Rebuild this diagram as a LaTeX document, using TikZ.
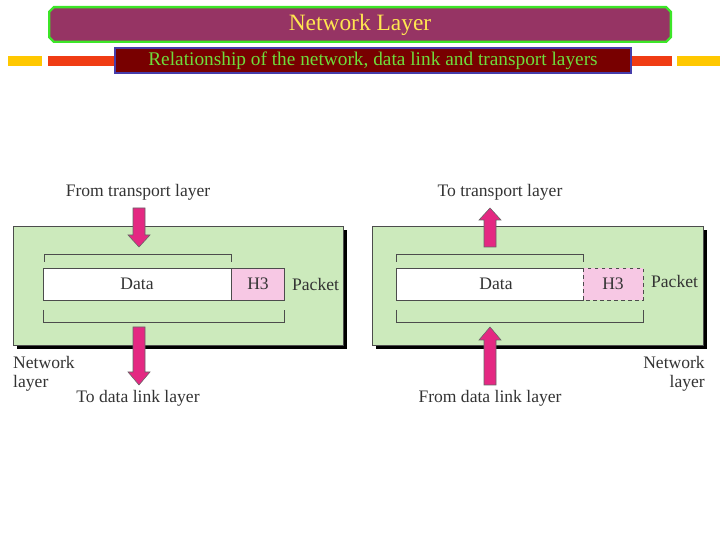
\documentclass[tikz,border=0pt]{standalone}
\usepackage{fontspec}
\setmainfont{Liberation Serif}
\usetikzlibrary{calc,shapes.misc}
\definecolor{banner}{RGB}{150,52,100}
\definecolor{bgreen}{RGB}{60,230,40}
\definecolor{subred}{RGB}{120,0,0}
\definecolor{subblue}{RGB}{70,60,170}
\definecolor{barred}{RGB}{240,60,20}
\definecolor{baryel}{RGB}{255,200,0}
\definecolor{panel}{RGB}{204,234,188}
\definecolor{hpink}{RGB}{247,200,228}
\definecolor{arrpink}{RGB}{228,40,130}
\definecolor{txtyel}{RGB}{255,230,80}
\definecolor{txtgrn}{RGB}{110,220,60}
\tikzset{
  panelbox/.style={draw=black!70, fill=panel},
  shadow/.style={fill=black},
  field/.style={draw=black!70, inner sep=0pt},
  lbl/.style={font=\fontsize{15}{16}\selectfont, text=black!80},
  brk/.style={draw=black!70, line width=0.6pt},
  blk/.style={draw=black!60, fill=arrpink, line width=0.5pt},
}
\begin{document}
\begin{tikzpicture}[x=0.03cm,y=-0.03cm]
\useasboundingbox (0,0) rectangle (720,540);
% header
\node[chamfered rectangle, chamfered rectangle xsep=2pt, chamfered rectangle ysep=2pt, draw=bgreen, line width=2pt, fill=banner,
  minimum width=624*0.03cm-2pt, minimum height=37*0.03cm-2pt, inner sep=0pt] (ttl) at (360,24.5)
  {\fontsize{20}{22}\selectfont\color{txtyel}Network Layer};
\fill[baryel] (8,56) rectangle (42,66);
\fill[barred] (48,56) rectangle (116,66);
\fill[barred] (630,56) rectangle (672,66);
\fill[baryel] (677,56) rectangle (720,66);
\node[draw=subblue, line width=1.5pt, fill=subred, minimum width=518*0.03cm-1.5pt, minimum height=27*0.03cm-1.5pt, inner sep=0pt]
  (sub) at (373,60.5) {\fontsize{16.5}{18}\selectfont\color{txtgrn}Relationship of the network, data link and transport layers};

% ---------- left panel ----------
\fill[shadow] (17,230) rectangle (347,349);
\draw[panelbox] (13,226) rectangle (343,345);
\draw[field, fill=white] (43,268) rectangle (231,300);
\node[lbl] (dL) at (137,284) {Data};
\draw[field, fill=hpink] (231,268) rectangle (284,300);
\node[lbl] (hL) at (258,284) {H3};
\node[lbl, anchor=west] (pL) at (288,284) {Packet};
\draw[brk] (44,262) -- (44,254) -- (231,254) -- (231,262);
\draw[brk] (43,310) -- (43,322) -- (284,322) -- (284,310);
\node[lbl] (fromT) at (138,192) {From transport layer};
\node[lbl] (toD) at (138,398) {To data link layer};
\node[lbl, anchor=north west, align=left, inner sep=0pt] (nL) at (13,356) {Network\\layer};
\draw[blk] (133,208) -- (145,208) -- (145,235) -- (150,235) -- (139,247) -- (128,235) -- (133,235) -- cycle;
\draw[blk] (133,327) -- (145,327) -- (145,372) -- (150,372) -- (139,385) -- (128,372) -- (133,372) -- cycle;

% ---------- right panel ----------
\fill[shadow] (376,230) rectangle (707,349);
\draw[panelbox] (372,226) rectangle (703,345);
\draw[field, fill=white] (396,268) rectangle (583,300);
\node[lbl] (dR) at (496,284) {Data};
\draw[field, fill=hpink, dashed] (583,268) rectangle (643,300);
\node[lbl] (hR) at (613,284) {H3};
\node[lbl, anchor=west] (pR) at (647,281) {Packet};
\draw[brk] (396,262) -- (396,254) -- (583,254) -- (583,262);
\draw[brk] (396,310) -- (396,322) -- (643,322) -- (643,310);
\node[lbl] (toT) at (500,192) {To transport layer};
\node[lbl] (fromD) at (490,398) {From data link layer};
\node[lbl, anchor=north east, align=right, inner sep=0pt] (nR) at (705,356) {Network\\layer};
\draw[blk] (484,247) -- (496,247) -- (496,220) -- (501,220) -- (490,208) -- (479,220) -- (484,220) -- cycle;
\draw[blk] (484,385) -- (496,385) -- (496,340) -- (501,340) -- (490,327) -- (479,340) -- (484,340) -- cycle;
\end{tikzpicture}
\end{document}
